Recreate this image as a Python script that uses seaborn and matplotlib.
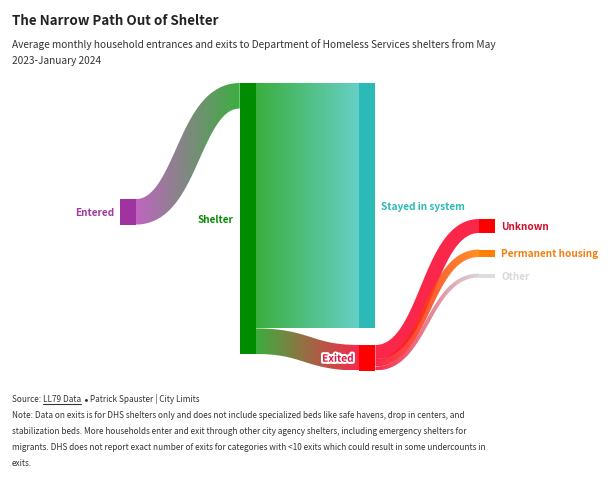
import numpy as np
import pandas as pd
import matplotlib
matplotlib.use("Agg")
import matplotlib.pyplot as plt
import matplotlib.patheffects as pe
from matplotlib.path import Path
from matplotlib.patches import PathPatch, Rectangle
from matplotlib.colors import to_rgb
import seaborn as sns

# ---------------- data ----------------
node_names = ["Entered", "Shelter", "Stayed in system", "Exited",
              "Unknown", "Permanent housing", "Other"]
node_colors = ["#a033a0", "#008c00", "#2bbab5", "#ff0000",
               "#ff0000", "#ff8000", "#dddddd"]
flow_colors = ["#b549b5", "#17a01b", "#4bc8be", "#fa0029",
               "#fa0029", "#ff7d00", "#d1d1d1"]
label_colors = ["#a03aa0", "#0a8c0a", "#2bbab5", "#e8103a",
                "#d0102a", "#f08010", "#d8d8d8"]
link_source = ["Entered", "Shelter", "Shelter", "Exited", "Exited", "Exited"]
link_target = ["Shelter", "Stayed in system", "Exited",
               "Unknown", "Permanent housing", "Other"]
link_value = [2550, 24500, 2550, 1400, 750, 400]

title = "The Narrow Path Out of Shelter"
subtitle_lines = ["Average monthly household entrances and exits to Department of Homeless Services shelters from May",
                  "2023-January 2024"]
source_parts = ["Source: ", "LL79 Data", " ", "\u2022", " Patrick Spauster | City Limits"]
note_lines = ["Note: Data on exits is for DHS shelters only and does not include specialized beds like safe havens, drop in centers, and",
              "stabilization beds. More households enter and exit through other city agency shelters, including emergency shelters for",
              "migrants. DHS does not report exact number of exits for categories with <10 exits which could result in some undercounts in",
              "exits."]

# ---------------- layout ----------------
sns.set_theme(style="white")
BODY = ["Noto Sans CJK SC", "Lato", "DejaVu Sans"]
plt.rcParams["font.family"] = BODY

W, H, DPI = 615, 486, 100
fig = plt.figure(figsize=(W / DPI, H / DPI), dpi=DPI)
ax = fig.add_axes([0, 0, 1, 1])
ax.set_xlim(0, W)
ax.set_ylim(H, 0)
ax.axis("off")

links = pd.DataFrame({"source": link_source, "target": link_target, "value": link_value})
nodes = pd.DataFrame({"name": node_names, "color": node_colors, "fcolor": flow_colors,
                      "lcolor": label_colors}).set_index("name")

depth = {n: 0 for n in node_names}
changed = True
while changed:
    changed = False
    for s, t in zip(links.source, links.target):
        if depth[t] < depth[s] + 1:
            depth[t] = depth[s] + 1
            changed = True
nodes["depth"] = [depth[n] for n in nodes.index]
nodes["value"] = [max(links.loc[links.target == n, "value"].sum(),
                      links.loc[links.source == n, "value"].sum()) for n in nodes.index]

x_left, col_step, node_w = 120, 119.7, 16
y_top, y_bot, pad = 83, 370.5, 16.5
col_tops = {0: 199, 1: 83, 2: 83, 3: 219}

col_sum = nodes.groupby("depth")["value"].sum()
col_n = nodes.groupby("depth").size()
k = min((y_bot - y_top - pad * (col_n[d] - 1)) / col_sum[d] for d in col_sum.index)

nodes["x0"] = x_left + nodes["depth"] * col_step
nodes["x1"] = nodes["x0"] + node_w
nodes["h"] = nodes["value"] * k
y0s = {}
for d in sorted(col_n.index):
    y = col_tops[d]
    for n in nodes.index[nodes.depth == d]:
        y0s[n] = y
        y += nodes.loc[n, "h"] + pad
nodes["y0"] = [y0s[n] for n in nodes.index]
nodes["y1"] = nodes["y0"] + nodes["h"]

links["w"] = links["value"] * k
sy = {n: nodes.loc[n, "y0"] for n in nodes.index}
ty = {n: nodes.loc[n, "y0"] for n in nodes.index}
links["sy"] = 0.0
links["ty"] = 0.0
for n in nodes.index:
    out = links[links.source == n].copy()
    out["ord"] = [nodes.loc[t, "y0"] for t in out.target]
    for i in out.sort_values("ord").index:
        links.loc[i, "sy"] = sy[n] + links.loc[i, "w"] / 2
        sy[n] += links.loc[i, "w"]
    inc = links[links.target == n].copy()
    inc["ord"] = [nodes.loc[s, "y0"] for s in inc.source]
    for i in inc.sort_values("ord").index:
        links.loc[i, "ty"] = ty[n] + links.loc[i, "w"] / 2
        ty[n] += links.loc[i, "w"]

alpha = 0.85
for i, L in links.iterrows():
    xa = nodes.loc[L.source, "x1"]
    xb = nodes.loc[L.target, "x0"]
    ya, yb, w = L.sy, L.ty, L.w
    xm = (xa + xb) / 2
    t = np.linspace(0, 1, 300)[:, None]
    P0, P1, P2, P3 = np.array([xa, ya]), np.array([xm, ya]), np.array([xm, yb]), np.array([xb, yb])
    B = ((1 - t) ** 3) * P0 + 3 * ((1 - t) ** 2) * t * P1 + 3 * (1 - t) * t ** 2 * P2 + t ** 3 * P3
    dB = 3 * ((1 - t) ** 2) * (P1 - P0) + 6 * (1 - t) * t * (P2 - P1) + 3 * t ** 2 * (P3 - P2)
    nrm = np.column_stack([-dB[:, 1], dB[:, 0]])
    nrm /= np.linalg.norm(nrm, axis=1)[:, None]
    upper = B + nrm * w / 2
    lower = B - nrm * w / 2
    poly = np.vstack([upper, lower[::-1], upper[:1]])
    codes = [Path.MOVETO] + [Path.LINETO] * (len(poly) - 2) + [Path.CLOSEPOLY]
    patch = PathPatch(Path(poly, codes), facecolor="none", edgecolor="none")
    ax.add_patch(patch)
    c0 = np.array(to_rgb(nodes.loc[L.source, "fcolor"]))
    c1 = np.array(to_rgb(nodes.loc[L.target, "fcolor"]))
    g = np.linspace(0, 1, 256)[:, None]
    grad = (c0 * (1 - g) + c1 * g)[None, :, :]
    rgba = np.concatenate([grad, np.full((1, 256, 1), alpha)], axis=2)
    ymin, ymax = poly[:, 1].min(), poly[:, 1].max()
    im = ax.imshow(rgba, extent=[xa, xb, ymax, ymin], aspect="auto",
                   interpolation="bilinear", zorder=2)
    im.set_clip_path(patch)

ax.set_xlim(0, W)
ax.set_ylim(H, 0)

for n, r in nodes.iterrows():
    ax.add_patch(Rectangle((r.x0, r.y0), node_w, r.h, facecolor=r.color,
                           edgecolor="none", zorder=3))

# ---------------- text helpers ----------------
fig.canvas.draw()
rend = fig.canvas.get_renderer()
inv = ax.transData.inverted()


def fit_size(s, base, target, **kw):
    t = ax.text(0, 0, s, fontsize=base, **kw)
    wdt = t.get_window_extent(rend).width
    t.remove()
    return min(base * 1.25, base * target / wdt)


ls = fit_size("Permanent housing", 8.5, 97, family=BODY, fontweight="bold")
for n, r in nodes.iterrows():
    yc = (r.y0 + r.y1) / 2
    if r.depth in (0, 1) or n == "Exited":
        x, ha = r.x0 - 6, "right"
    else:
        x, ha = r.x1 + 6, "left"
    kw = {}
    if n == "Exited":
        kw["path_effects"] = [pe.withStroke(linewidth=3, foreground="white")]
    ax.text(x, yc, n, ha=ha, va="center_baseline", fontsize=ls, fontweight="bold",
            family=BODY, color=r.lcolor, zorder=5, **kw)

ts = fit_size(title, 13.5, 207, family=BODY, fontweight="bold")
ax.text(12, 25, title, fontsize=ts, fontweight="bold", color="#222222",
        family=BODY, ha="left", va="baseline")

ss = fit_size(subtitle_lines[0], 9.8, 488, family=BODY)
for j, line in enumerate(subtitle_lines):
    ax.text(12, 48 + 15.5 * j, line, fontsize=ss, color="#333333",
            family=BODY, ha="left", va="baseline")

ns = fit_size(note_lines[2], 8.6, 476, family=BODY)
xc = 12
for j, part in enumerate(source_parts):
    fam = ["Lato", "DejaVu Sans"] if part == "\u2022" else BODY
    tx = ax.text(xc, 402, part, fontsize=ns, color="#333333", family=fam,
                 ha="left", va="baseline")
    xn = inv.transform((tx.get_window_extent(rend).x1, 0))[0]
    if part == "LL79 Data":
        ax.plot([xc, xn], [404, 404], color="#333333", lw=0.8)
    xc = xn
for j, line in enumerate(note_lines):
    ax.text(12, 418 + 15.9 * j, line, fontsize=ns, color="#333333",
            family=BODY, ha="left", va="baseline")

fig.savefig("out.png", dpi=DPI)
